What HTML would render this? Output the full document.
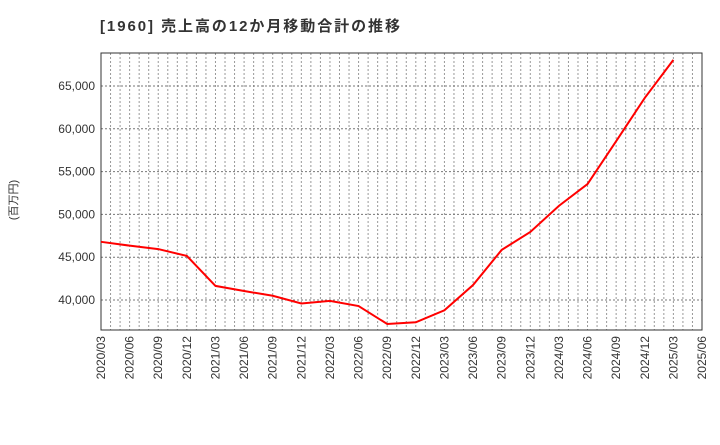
<!DOCTYPE html>
<html><head><meta charset="utf-8"><style>
body{margin:0;background:#fff;font-family:"Liberation Sans","Noto Sans CJK JP",sans-serif;}
</style></head><body>
<svg width="720" height="440" xmlns="http://www.w3.org/2000/svg">
<text x="100" y="31" font-size="15" font-weight="bold" fill="#333" textLength="300" lengthAdjust="spacing" font-family="Liberation Sans, Noto Sans CJK JP, sans-serif">[1960]  売上高の12か月移動合計の推移</text>
<text transform="translate(17,200) rotate(-90)" font-size="11" fill="#333" text-anchor="middle" font-family="Liberation Sans, Noto Sans CJK JP, sans-serif">(百万円)</text>
<g id="grid"></g><g id="axes"></g><g id="series"></g>
</svg>
<script>
const tickLabels=["2020/03","2020/06","2020/09","2020/12","2021/03","2021/06","2021/09","2021/12","2022/03","2022/06","2022/09","2022/12","2023/03","2023/06","2023/09","2023/12","2024/03","2024/06","2024/09","2024/12","2025/03","2025/06"];
const yTicks=[40000,45000,50000,55000,60000,65000];
const values=[46800,46350,45950,45150,41650,41050,40500,39600,39900,39300,37200,37400,38800,41750,45850,47950,51000,53550,58550,63600,68050];
const L=101,R=702,T=53,B=330,yMin=36500,yMax=68850;
const NS="http://www.w3.org/2000/svg";
const xs=i=>L+(R-L)*i/(tickLabels.length-1);
const ys=v=>B-(v-yMin)/(yMax-yMin)*(B-T);
function mk(t,a,p){const e=document.createElementNS(NS,t);for(const k in a)e.setAttribute(k,a[k]);p.appendChild(e);return e;}
const g=document.getElementById('grid'),ax=document.getElementById('axes'),s=document.getElementById('series');
const nm=(tickLabels.length-1)*3;
for(let m=1;m<nm;m++){const x=L+(R-L)*m/nm;
const l=mk('line',{x1:x,x2:x,y1:T,y2:B,stroke:'#999','stroke-dasharray':'2,2','stroke-width':1},g);

}
yTicks.forEach(v=>{const y=ys(v);
const l=mk('line',{x1:L,x2:R,y1:y,y2:y,stroke:'#777','stroke-dasharray':'2,2','stroke-width':1},g);


const t=mk('text',{x:L-6,y:y+4,'text-anchor':'end','font-size':12,fill:'#333'},ax);t.textContent=v.toLocaleString('en-US');

});
tickLabels.forEach((lb,i)=>{const x=xs(i);
const t=mk('text',{transform:`translate(${x+4},${B+6}) rotate(-90)`,'text-anchor':'end','font-size':12,fill:'#333'},ax);t.textContent=lb;

});
const fr=mk('rect',{x:L,y:T,width:R-L,height:B-T,fill:'none',stroke:'#333','stroke-width':1},ax);


const p=mk('polyline',{points:values.map((v,i)=>xs(i)+','+ys(v)).join(' '),fill:'none',stroke:'#f00','stroke-width':2},s);


</script>
</body></html>
